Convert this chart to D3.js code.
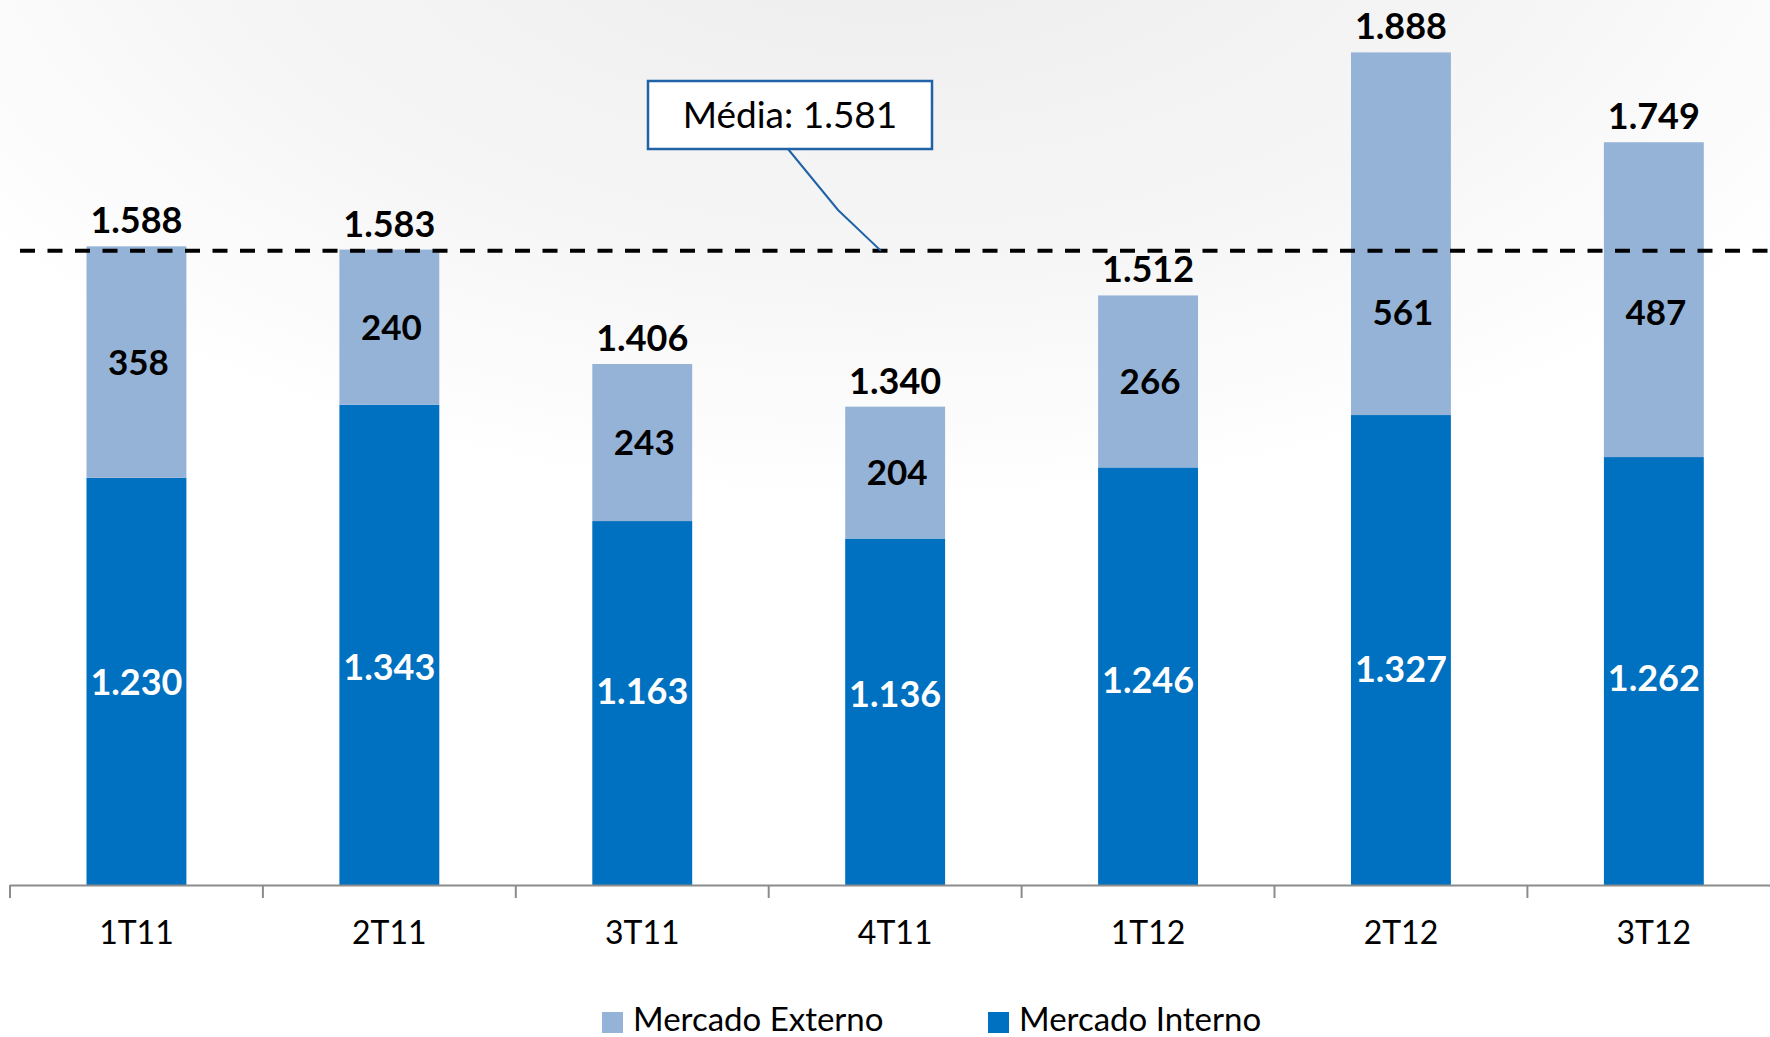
<!DOCTYPE html>
<html><head><meta charset="utf-8">
<script src="https://cdn.jsdelivr.net/npm/d3@7"></script>
<style>html,body{margin:0;padding:0;background:#fff;}svg{display:block;}</style>
</head><body>
<svg id="c" width="1770" height="1037"></svg>
<script>
const categories = ["1T11","2T11","3T11","4T11","1T12","2T12","3T12"];
const interno = [1230,1343,1163,1136,1246,1327,1262];
const externo = [358,240,243,204,266,561,487];
const totals = [1588,1583,1406,1340,1512,1888,1749];
const totalLabels = ["1.588","1.583","1.406","1.340","1.512","1.888","1.749"];
const internoLabels = ["1.230","1.343","1.163","1.136","1.246","1.327","1.262"];
const externoLabels = ["358","240","243","204","266","561","487"];
const mean = 1581;
const meanLabel = "Média: 1.581";
const seriesNames = ["Mercado Externo","Mercado Interno"];
const yDomain = [600, 2000];

const W = 1770, H = 1037;
const svg = d3.select("#c");
const defs = svg.append("defs");
const g1 = defs.append("radialGradient").attr("id","bg").attr("cx","0.5").attr("cy","-0.15").attr("r","0.75").attr("fx","0.5").attr("fy","-0.15");
g1.append("stop").attr("offset","0").attr("stop-color","#ebebeb");
g1.append("stop").attr("offset","0.55").attr("stop-color","#f6f6f6");
g1.append("stop").attr("offset","0.85").attr("stop-color","#ffffff");
g1.append("stop").attr("offset","1").attr("stop-color","#ffffff");
svg.append("rect").attr("width",W).attr("height",H).attr("fill","url(#bg)");

const colExt = "#95b3d7", colInt = "#0070c0";
const font = "Lato, 'Open Sans', sans-serif";

const x = d3.scaleBand().domain(categories).range([10, 10 + 7*252.9]).paddingInner(0.605).paddingOuter(0.3025);
const y = d3.scaleLinear().domain(yDomain).range([885, -20]);
// label track for the Interno labels (as placed in the original slide)
const yIntLabel = d3.scaleLinear().domain([0, 2000]).range([843, 581]);

const data = categories.map((c,i)=>({c, int: interno[i], ext: externo[i], tot: totals[i], i}));

// bars
const bars = svg.append("g");
bars.selectAll("rect.int").data(data).join("rect")
  .attr("x", d=>x(d.c)).attr("width", x.bandwidth())
  .attr("y", d=>y(d.int)).attr("height", d=>y(yDomain[0]) - y(d.int))
  .attr("fill", colInt);
bars.selectAll("rect.ext").data(data).join("rect")
  .attr("x", d=>x(d.c)).attr("width", x.bandwidth())
  .attr("y", d=>y(d.int + d.ext)).attr("height", d=>y(d.int) - y(d.int + d.ext))
  .attr("fill", colExt);

// axis
const axisG = svg.append("g").attr("transform", `translate(0,${y(yDomain[0])})`);
axisG.append("line").attr("x1",10).attr("x2",W).attr("y1",0.5).attr("y2",0.5).attr("stroke","#8c8c8c").attr("stroke-width",2);
const step = x.step();
const tickXs = d3.range(categories.length+1).map(k=>x(categories[0]) - x.paddingOuter()*step + k*step);
axisG.selectAll("line.t").data(tickXs).join("line")
  .attr("x1",d=>d).attr("x2",d=>d).attr("y1",0).attr("y2",13).attr("stroke","#8c8c8c").attr("stroke-width",2);
axisG.selectAll("text").data(categories).join("text")
  .attr("x", d=>x(d)+x.bandwidth()/2).attr("y", 59)
  .attr("text-anchor","middle").attr("font-family",font).attr("font-size",32).attr("fill","#000")
  .text(d=>d);

// mean dashed line
svg.append("line").attr("x1",20).attr("x2",W).attr("y1",y(mean)).attr("y2",y(mean))
  .attr("stroke","#000").attr("stroke-width",4).attr("stroke-dasharray","15,12.5");

// labels
const lab = svg.append("g").attr("font-family",font).attr("font-weight","bold").attr("text-anchor","middle");
lab.selectAll("text.tot").data(data).join("text")
  .attr("x", d=>x(d.c)+x.bandwidth()/2).attr("y", d=>y(d.tot)-13)
  .attr("font-size",36).attr("fill","#000").text(d=>totalLabels[d.i]);
lab.selectAll("text.ext").data(data).join("text")
  .attr("x", d=>x(d.c)+x.bandwidth()/2+2)
  .attr("y", d=>Math.max((y(d.int)+y(d.int+d.ext))/2, y(mean)+62))
  .attr("dy","0.36em").attr("font-size",35).attr("fill","#000").text(d=>externoLabels[d.i]);
lab.selectAll("text.int").data(data).join("text")
  .attr("x", d=>x(d.c)+x.bandwidth()/2).attr("y", d=>yIntLabel(d.int))
  .attr("dy","0.36em").attr("font-size",36).attr("fill","#fff").text(d=>internoLabels[d.i]);

// mean callout
const boxX = 648, boxY = 81, boxW = 284, boxH = 68;
svg.append("path")
  .attr("d", `M788,${boxY+boxH} L838,210 L881,${y(mean)}`)
  .attr("fill","none").attr("stroke","#1f62a6").attr("stroke-width",2);
svg.append("rect").attr("x",boxX).attr("y",boxY).attr("width",boxW).attr("height",boxH)
  .attr("fill","#fff").attr("stroke","#1f62a6").attr("stroke-width",2.5);
svg.append("text").attr("x",boxX+boxW/2).attr("y",boxY+boxH/2).attr("dy","0.36em")
  .attr("text-anchor","middle").attr("font-family",font).attr("font-size",37).attr("fill","#000").text(meanLabel);

// legend
const leg = svg.append("g");
const legItems = [{n:seriesNames[0], c:colExt, x:602},{n:seriesNames[1], c:colInt, x:988}];
leg.selectAll("rect").data(legItems).join("rect")
  .attr("x",d=>d.x).attr("y",1012).attr("width",21).attr("height",21).attr("fill",d=>d.c);
leg.selectAll("text").data(legItems).join("text")
  .attr("x",d=>d.x+31).attr("y",1031).attr("font-family",font).attr("font-size",33).attr("fill","#000").text(d=>d.n);
</script>
</body></html>
